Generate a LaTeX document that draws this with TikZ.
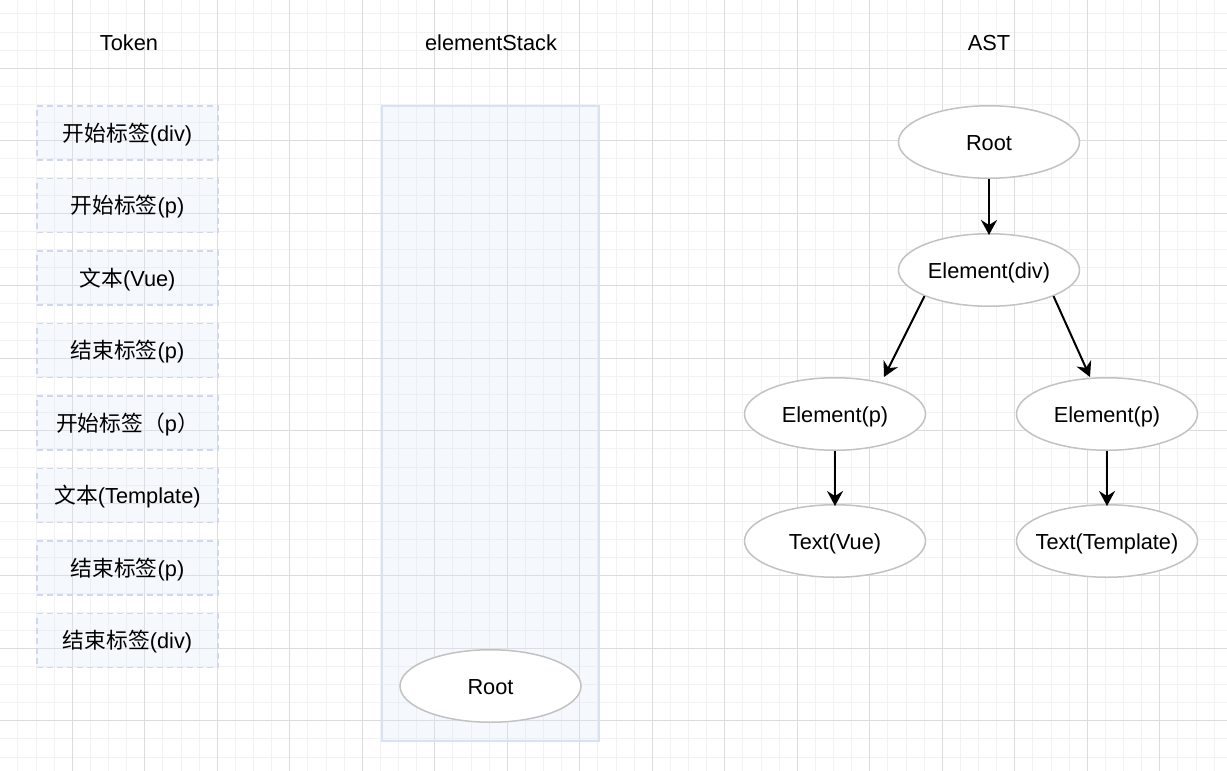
\documentclass[tikz,border=0pt]{standalone}
\usepackage{fontspec}
\setmainfont{Liberation Sans}
\newfontfamily\cjk{Noto Sans CJK SC}
\usetikzlibrary{arrows.meta,shapes.geometric,calc}
\definecolor{gridminor}{HTML}{F2F2F2}
\definecolor{gridmajor}{HTML}{DCDCDC}
\definecolor{boxfill}{HTML}{DAE8FC}
\definecolor{boxline}{HTML}{CFD8EC}
\definecolor{stackline}{HTML}{D9E2F0}
\definecolor{ellline}{HTML}{C2C2C2}
\tikzset{
  txt/.style={font=\fontsize{21.75}{26}\selectfont, text height=16.5pt, text depth=0pt},
  lbl/.style={txt, inner sep=0pt},
  tokbox/.style={rectangle, draw=boxline, dash pattern=on 6pt off 4pt, line width=1.5pt,
    fill=boxfill, fill opacity=0.25, text opacity=1, minimum width=181pt, minimum height=54pt,
    inner sep=0pt, txt},
  stackbox/.style={rectangle, draw=stackline, line width=1.5pt, fill=boxfill, fill opacity=0.25,
    minimum width=217pt, minimum height=635pt, inner sep=0pt},
  ell/.style={ellipse, draw=ellline, line width=1.5pt, fill=white, minimum width=181pt,
    minimum height=72.5pt, inner sep=0pt, txt},
  conn/.style={line width=2pt, -{Stealth[length=15pt,width=16pt,inset=5pt]}}
}
\begin{document}
\begin{tikzpicture}[x=1pt,y=-1pt]
\useasboundingbox (0,0) rectangle (1227,771);
\fill[white] (0,0) rectangle (1227,771);
% grid
\foreach \i in {0,...,68}{
  \draw[gridminor, line width=1pt] ({-0.2+\i*18.125},0) -- ({-0.2+\i*18.125},771);
}
\foreach \j in {0,...,43}{
  \draw[gridminor, line width=1pt] (0,{-4.2+\j*18.125}) -- (1227,{-4.2+\j*18.125});
}
\foreach \i in {0,...,17}{
  \draw[gridmajor, line width=1pt] ({-0.2+\i*72.5},0) -- ({-0.2+\i*72.5},771);
}
\foreach \j in {0,...,11}{
  \draw[gridmajor, line width=1pt] (0,{-4.2+\j*72.5}) -- (1227,{-4.2+\j*72.5});
}
% titles
\node[lbl] (ttok) at (129,42) {Token};
\node[lbl] (tstack) at (491,42) {elementStack};
\node[lbl] (tast) at (989,42) {AST};
% tokens
\node[tokbox] (k1) at (127.5,133) {{\cjk 开始标签}(div)};
\node[tokbox] (k2) at (127.5,205.5) {{\cjk 开始标签}(p)};
\node[tokbox] (k3) at (127.5,278) {{\cjk 文本}(Vue)};
\node[tokbox] (k4) at (127.5,350.5) {{\cjk 结束标签}(p)};
\node[tokbox] (k5) at (127.5,423) {{\cjk 开始标签（}p{\cjk ）}};
\node[tokbox] (k6) at (127.5,495.5) {{\cjk 文本}(Template)};
\node[tokbox] (k7) at (127.5,568) {{\cjk 结束标签}(p)};
\node[tokbox] (k8) at (127.5,640.5) {{\cjk 结束标签}(div)};
% stack
\node[stackbox] (stack) at (490.5,423.5) {};
\node[ell] (sroot) at (490.5,686) {Root};
% AST
\node[ell] (root) at (989,142) {Root};
\node[ell] (ediv) at (989,270) {\makebox[0pt]{Element(div)}};
\node[ell] (ep1) at (835,414) {\makebox[0pt]{Element(p)}};
\node[ell] (ep2) at (1107,414) {\makebox[0pt]{Element(p)}};
\node[ell] (tv) at (835,541) {\makebox[0pt]{Text(Vue)}};
\node[ell] (tt) at (1107,541) {\makebox[0pt]{Text(Template)}};
\draw[conn] (root.south) -- ([yshift=-2pt]ediv.north);
\draw[conn] (ediv.south west) -- ([xshift=49pt]ep1.north);
\draw[conn] (ediv.south east) -- ([xshift=-17pt]ep2.north);
\draw[conn] (ep1.south) -- ([yshift=-2pt]tv.north);
\draw[conn] (ep2.south) -- ([yshift=-2pt]tt.north);
\end{tikzpicture}
\end{document}
